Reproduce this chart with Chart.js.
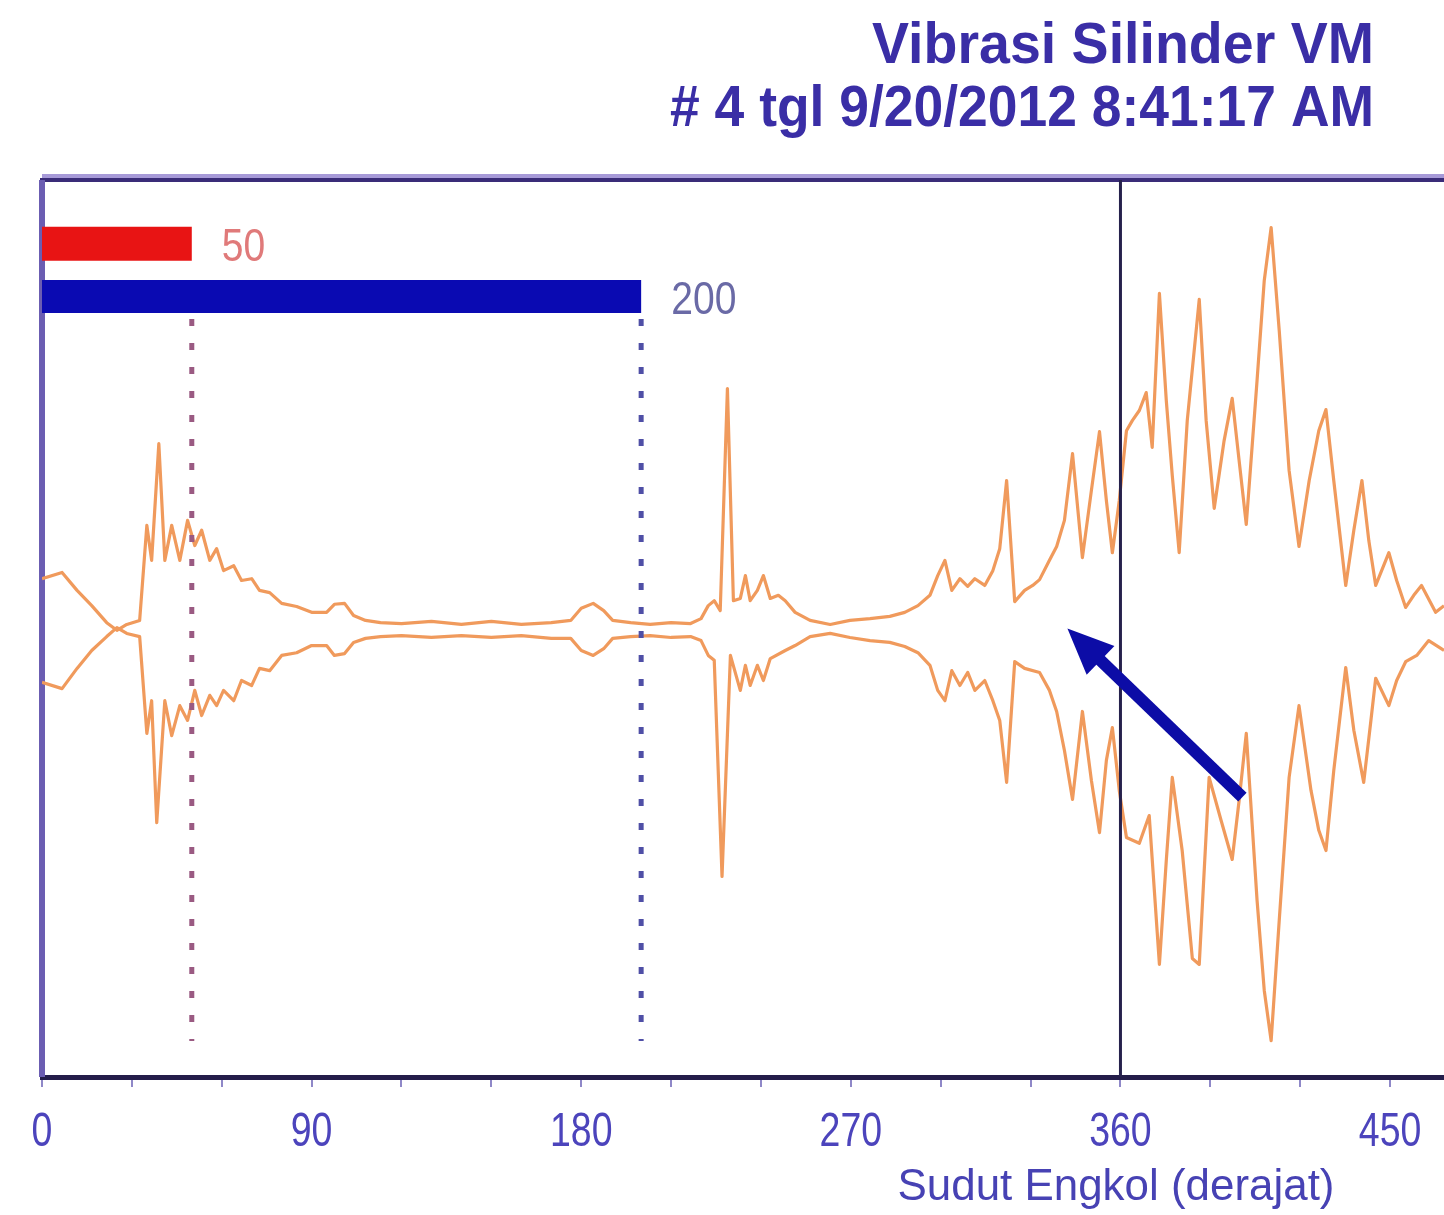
<!DOCTYPE html>
<html>
<head>
<meta charset="utf-8">
<script src="https://cdn.jsdelivr.net/npm/chart.js@4.4.1/dist/chart.umd.min.js"></script>
<style>
  html, body { margin: 0; padding: 0; background: #ffffff; }
  #c { display: block; }
</style>
</head>
<body>
<canvas id="c" width="1444" height="1215"></canvas>
<script>
// ---------------- DATA ----------------
const titleLines = ['Vibrasi Silinder VM', '# 4 tgl 9/20/2012 8:41:17 AM'];
const xAxisTitle = 'Sudut Engkol (derajat)';

const tickValues = [0, 30, 60, 90, 120, 150, 180, 210, 240, 270, 300, 330, 360, 390, 420, 450];
const labeledTicks = [0, 90, 180, 270, 360, 450];

const markerValues = [50, 200];
const markerLabels = ['50', '200'];
const tdcAngle = 360;

const arrowFrom = [400.7, -37.6];
const arrowTo = [342.3, 0];

const upperAngle = [0, 6.7, 11.7, 16.6, 21.6, 25, 28.3, 32.6, 35, 36.6, 39, 41, 43.3, 46, 48.6, 51, 53.3, 56, 58.3, 60.6,
  64, 66.6, 70, 72.6, 76, 80, 85, 90, 95, 97.6, 101, 104, 108, 113, 120, 130, 140, 150, 160, 170,
  176.5, 180, 184, 187.5, 190.5, 196.5, 203, 210, 216.5, 220, 222.4, 224.4, 226.4, 228.8, 230.8, 233.1, 234.8, 236.4, 238.8, 240.8,
  243.1, 245.8, 248.1, 251.4, 256.4, 263.1, 269.7, 276.4, 283, 288, 292.4, 296.4, 299, 301.4, 303.7, 306.4, 309, 311.4, 314.7, 317.4,
  319.7, 322, 324.7, 328, 330.7, 333, 336.3, 338.7, 341.3, 344, 347.3, 350.3, 353, 355.3, 357.3, 359.6, 362, 364, 366.3, 368.6,
  370.6, 373, 375.3, 377.3, 379.6, 382.3, 386.3, 388.6, 391.3, 394.6, 397.3, 399.6, 402, 405.6, 408, 410.3, 413, 416.3, 419.6, 423,
  426.2, 428.6, 431.2, 435.2, 437.9, 440.6, 442.9, 445.2, 449.6, 452.2, 455.2, 457.9, 460.5, 465.2, 468];
const upperAmp = [11.1, 12.5, 8.5, 5.1, 1.3, -0.4, 0.9, 1.8, 23, 15.2, 41.2, 15.2, 23, 15.2, 24.1, 18.5, 21.9, 15.2, 17.8, 12.9,
  14, 10.7, 11.1, 8.5, 8, 5.6, 4.9, 3.6, 3.6, 5.4, 5.6, 2.9, 1.8, 1.3, 1.1, 1.6, 0.9, 1.6, 0.9, 1.3,
  1.8, 4.5, 5.6, 4, 1.8, 1.3, 0.9, 1.3, 1.1, 2.2, 5.1, 6.2, 4, 53.5, 6.2, 6.7, 11.8, 6.2, 8.5, 11.8,
  6.7, 7.4, 6.2, 3.6, 1.8, 0.9, 1.8, 2.2, 2.7, 3.6, 5.1, 7.4, 11.8, 15.2, 8.5, 11.1, 9.4, 11.1, 9.6, 12.9,
  17.8, 33, 6, 8.5, 9.6, 10.9, 15.2, 18.3, 24.1, 39, 15.8, 30.8, 43.9, 28.5, 16.9, 28.5, 44.1, 46.4, 48.6, 52.6,
  40.4, 74.7, 50.8, 34.1, 16.9, 46.4, 73.4, 46.4, 26.8, 41.9, 51.3, 37.5, 23.2, 55.3, 77.6, 89.4, 66.4, 35.2, 18.3, 33,
  44.1, 48.8, 33, 9.6, 21.9, 33, 19.6, 9.6, 16.9, 10.7, 4.7, 7.4, 9.6, 3.6, 5.1];

const lowerAngle = [0, 6.7, 11.7, 16.6, 21.6, 25, 28.3, 32.6, 35, 36.6, 38.3, 41, 43.3, 46, 48.6, 51, 53.3, 56, 58.3, 60.6,
  64, 66.6, 70, 72.6, 76, 80, 85, 90, 95, 97.6, 101, 104, 108, 113, 120, 130, 140, 150, 160, 170,
  176.5, 180, 184, 187.5, 190.5, 196.5, 203, 210, 216.5, 220, 222.4, 224.4, 227, 229.8, 233.1, 234.8, 236.4, 238.8, 240.8, 243.1,
  248.1, 251.4, 256.4, 263.1, 269.7, 276.4, 283, 288, 292.4, 296.4, 299, 301.4, 303.7, 306.4, 309, 311.4, 314.7, 317.4, 319.7, 322,
  324.7, 328, 333, 336.3, 338.7, 341.3, 344, 347.3, 350.3, 353, 355.3, 357.3, 359.6, 362, 366.3, 369.6, 373, 375.3, 377.3, 380.6,
  384, 386.3, 389.6, 393.6, 397.3, 399.6, 402, 405.6, 408, 410.3, 413, 416.3, 419.6, 423.6, 426.2, 428.6, 431.2, 435.2, 437.9, 441.2,
  443.6, 445.2, 449.6, 452.2, 455.2, 458.9, 462.9, 468];
const lowerAmp = [-12, -13.4, -8.9, -4.9, -1.8, 0.2, -1.1, -1.8, -23.4, -16.1, -43.3, -16.1, -23.9, -17.2, -20.5, -13.8, -19.4, -14.9, -17.2, -13.8,
  -16.1, -11.6, -12.7, -8.9, -9.4, -6, -5.4, -3.8, -3.8, -6, -5.6, -3.1, -2.2, -1.8, -1.6, -2, -1.6, -2, -1.6, -2.2,
  -2.2, -4.9, -6, -4.5, -2.2, -1.8, -1.6, -2, -1.8, -2.7, -6, -7.1, -55.3, -6, -13.8, -8.2, -12.7, -8.2, -11.6, -6.7,
  -4.9, -3.8, -1.8, -1.1, -2, -2.7, -3.1, -4, -5.4, -8.2, -13.8, -16.1, -9.4, -12.7, -9.8, -13.8, -11.6, -16.1, -20.5, -34.3,
  -7.4, -8.9, -9.8, -13.8, -18.5, -27.2, -38.1, -18.5, -33.9, -45.5, -29.4, -22.1, -36.1, -46.6, -47.9, -41.7, -74.9, -51.7, -33.2, -49.5,
  -73.6, -74.9, -33.2, -42.8, -51.5, -38.4, -23.4, -60.6, -80.7, -91.9, -65.1, -33.2, -17.2, -36.1, -45, -49.5, -31.7, -8.7, -22.7, -34.3,
  -20.5, -11.1, -17.2, -11.6, -7.4, -6, -2.7, -4.9];

// ---------------- STYLE CONSTANTS ----------------
const X_MIN = 0, X_MAX = 468, Y_MIN = -100, Y_MAX = 100;
const BAR_Y = [85.8, 74.0];          // vertical placement of the two marker bars
const BAR_COLORS = ['#e81414', '#0a0ab2'];
const BAR_WIDTHS = [34, 33];
const LABEL_COLORS = ['#e07a7a', '#6a6aa6'];
const DOT_TOP = 69, DOT_BOTTOM = -92;
const DOT_COLORS = ['#9a5a82', '#4f4fa6'];
const TRACE_COLOR = '#f09a5c';

function pts(xs, ys) { return xs.map((x, i) => ({ x: x, y: ys[i] })); }

function drawScaledText(ctx, text, x, y, font, color, sx, align) {
  ctx.save();
  ctx.font = font;
  ctx.fillStyle = color;
  ctx.textBaseline = 'alphabetic';
  const w = ctx.measureText(text).width * sx;
  let left = x;
  if (align === 'center') left = x - w / 2;
  else if (align === 'right') left = x - w;
  ctx.translate(left, y);
  ctx.scale(sx, 1);
  ctx.textAlign = 'left';
  ctx.fillText(text, 0, 0);
  ctx.restore();
}

function drawFitText(ctx, text, right, y, font, color, targetWidth) {
  ctx.save();
  ctx.font = font;
  const w = ctx.measureText(text).width;
  ctx.restore();
  drawScaledText(ctx, text, right, y, font, color, targetWidth / w, 'right');
}

const decorPlugin = {
  id: 'decor',
  beforeDatasetsDraw(chart) {
    const { ctx, chartArea: a } = chart;
    ctx.save();
    ctx.strokeStyle = '#a79ad8';
    ctx.lineWidth = 4;
    ctx.beginPath(); ctx.moveTo(a.left, a.top - 4); ctx.lineTo(a.right, a.top - 4); ctx.stroke();
    ctx.strokeStyle = '#3a2c78';
    ctx.lineWidth = 4;
    ctx.beginPath(); ctx.moveTo(a.left - 2, a.top); ctx.lineTo(a.right, a.top); ctx.stroke();
    ctx.strokeStyle = '#6b5db2';
    ctx.lineWidth = 6;
    ctx.beginPath(); ctx.moveTo(a.left, a.top); ctx.lineTo(a.left, a.bottom); ctx.stroke();
    ctx.restore();
  },
  afterDatasetsDraw(chart) {
    const { ctx } = chart;
    const xs = chart.scales.x, ys = chart.scales.y;
    markerValues.forEach((v, i) => {
      const px = xs.getPixelForValue(v) + 30;
      const py = ys.getPixelForValue(BAR_Y[i]) + 17;
      drawScaledText(ctx, markerLabels[i], px, py, '46px "Liberation Sans", Arial, sans-serif', LABEL_COLORS[i], 0.85, 'left');
    });
    const x1 = xs.getPixelForValue(arrowFrom[0]), y1 = ys.getPixelForValue(arrowFrom[1]);
    const x2 = xs.getPixelForValue(arrowTo[0]), y2 = ys.getPixelForValue(arrowTo[1]);
    const ang = Math.atan2(y2 - y1, x2 - x1);
    const headLen = 46, headHalf = 20;
    const bx = x2 - headLen * Math.cos(ang), by = y2 - headLen * Math.sin(ang);
    ctx.save();
    ctx.strokeStyle = '#0c0ca6';
    ctx.fillStyle = '#0c0ca6';
    ctx.lineWidth = 12;
    ctx.lineCap = 'butt';
    ctx.beginPath(); ctx.moveTo(x1, y1); ctx.lineTo(bx + 4 * Math.cos(ang), by + 4 * Math.sin(ang)); ctx.stroke();
    ctx.beginPath();
    ctx.moveTo(x2, y2);
    ctx.lineTo(bx + headHalf * Math.sin(ang), by - headHalf * Math.cos(ang));
    ctx.lineTo(bx - headHalf * Math.sin(ang), by + headHalf * Math.cos(ang));
    ctx.closePath();
    ctx.fill();
    ctx.restore();
  },
  afterDraw(chart) {
    const { ctx, chartArea: a } = chart;
    const xs = chart.scales.x;
    drawFitText(ctx, titleLines[0], 1374, 63, 'bold 58px "Liberation Sans", Arial, sans-serif', '#3a2ea6', 502);
    drawFitText(ctx, titleLines[1], 1374, 126, 'bold 58px "Liberation Sans", Arial, sans-serif', '#3a2ea6', 704);
    labeledTicks.forEach(v => {
      drawScaledText(ctx, String(v), xs.getPixelForValue(v), a.bottom + 69, '48px "Liberation Sans", Arial, sans-serif', '#4c44bc', 0.78, 'center');
    });
    ctx.save();
    ctx.font = '45px "Liberation Sans", Arial, sans-serif';
    const tw = ctx.measureText(xAxisTitle).width;
    ctx.restore();
    drawScaledText(ctx, xAxisTitle, 1116, a.bottom + 123, '45px "Liberation Sans", Arial, sans-serif', '#4742b4', 437 / tw, 'center');
  }
};

const datasets = [];
datasets.push({
  label: 'TDC', data: [{ x: tdcAngle, y: Y_MIN }, { x: tdcAngle, y: Y_MAX }],
  borderColor: '#26214c', borderWidth: 3, pointRadius: 0
});
markerValues.forEach((v, i) => {
  datasets.push({
    label: 'dot' + v, data: [{ x: v, y: DOT_TOP }, { x: v, y: DOT_BOTTOM }],
    borderColor: DOT_COLORS[i], borderWidth: 5, borderDash: [7, 17], borderCapStyle: 'butt', pointRadius: 0
  });
});
markerValues.forEach((v, i) => {
  datasets.push({
    label: 'bar' + v, data: [{ x: X_MIN, y: BAR_Y[i] }, { x: v, y: BAR_Y[i] }],
    borderColor: BAR_COLORS[i], borderWidth: BAR_WIDTHS[i], borderCapStyle: 'butt', pointRadius: 0
  });
});
datasets.push({
  label: 'upper', data: pts(upperAngle, upperAmp),
  borderColor: TRACE_COLOR, borderWidth: 3.2, pointRadius: 0, tension: 0, borderJoinStyle: 'round'
});
datasets.push({
  label: 'lower', data: pts(lowerAngle, lowerAmp),
  borderColor: TRACE_COLOR, borderWidth: 3.2, pointRadius: 0, tension: 0, borderJoinStyle: 'round'
});

new Chart(document.getElementById('c'), {
  type: 'line',
  data: { datasets: datasets },
  options: {
    responsive: false,
    animation: false,
    devicePixelRatio: 1,
    layout: { padding: { left: 42, top: 180, right: 0, bottom: 0 } },
    plugins: { legend: { display: false }, tooltip: { enabled: false }, title: { display: false } },
    scales: {
      x: {
        type: 'linear', min: X_MIN, max: X_MAX,
        afterBuildTicks: (scale) => { scale.ticks = tickValues.map(v => ({ value: v })); },
        afterFit: (scale) => { scale.height = 138; },
        ticks: { display: false },
        grid: { drawOnChartArea: false, drawTicks: true, tickLength: 10, color: '#8f88c8', lineWidth: 2 },
        border: { display: true, color: '#241d4a', width: 5 }
      },
      y: { display: false, min: Y_MIN, max: Y_MAX }
    }
  },
  plugins: [decorPlugin]
});
</script>
</body>
</html>
